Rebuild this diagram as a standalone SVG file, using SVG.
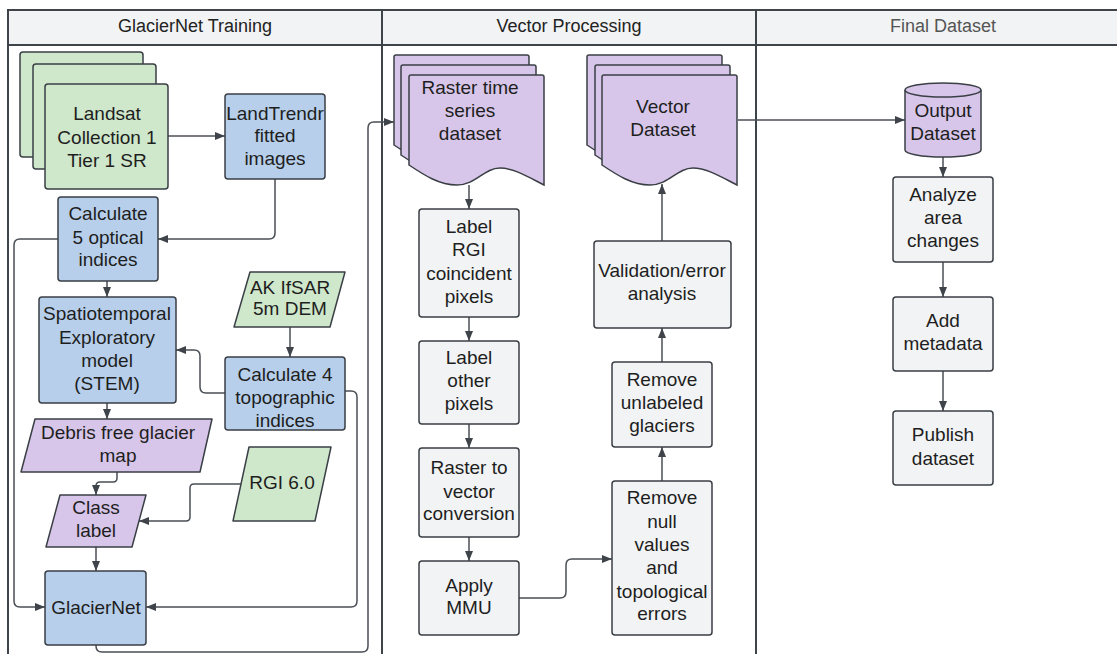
<svg xmlns="http://www.w3.org/2000/svg" xmlns:xlink="http://www.w3.org/1999/xlink" width="1117" height="654" viewBox="0 0 1117 654">
  <style>
    .lane { fill: none; stroke: #3f444a; stroke-width: 2; }
    .head { fill: #f1f3f4; stroke: #3f444a; stroke-width: 2; }
    .htxt { font-family: "Liberation Sans", Arial, sans-serif; font-size: 18px; fill: #222; text-anchor: middle; }
    .htxt.dim { fill: #555; }
    .green { fill: #cfe7cb; stroke: #3a3f45; stroke-width: 1.5; }
    .blue { fill: #b7cfea; stroke: #3a3f45; stroke-width: 1.5; }
    .purple { fill: #d7c6e9; stroke: #3a3f45; stroke-width: 1.5; }
    .gray { fill: #f1f3f4; stroke: #3a3f45; stroke-width: 1.5; }
    .t { font-family: "Liberation Sans", Arial, sans-serif; font-size: 19px; fill: #1e1e1e; text-anchor: middle; }
    .c { fill: none; stroke: #4a4f56; stroke-width: 1.5; }
  </style>
  <defs>
    <marker id="arr" markerUnits="userSpaceOnUse" markerWidth="10" markerHeight="10" viewBox="0 0 10 10" refX="10" refY="5" orient="auto">
      <path d="M0,1 L10,5 L0,9 Z" fill="#3f444a"/>
    </marker>
    <!-- document shape with wavy bottom edge -->
    <path id="doc" d="M0,2 Q0,0 2,0 H133 Q135,0 135,2 V110 C121,103 105,93 91,93 C75,93 67,110 48,110 C30,110 15,100 0,90 Z"/>
  </defs>

  <rect width="1117" height="654" fill="#ffffff"/>

  <!-- swimlanes -->
  <g id="lanes">
    <rect class="head" x="8" y="10" width="1130" height="35"/>
    <rect class="lane" x="8" y="10" width="1130" height="660"/>
    <line class="lane" x1="382" y1="10" x2="382" y2="670"/>
    <line class="lane" x1="756" y1="10" x2="756" y2="670"/>
    <text class="htxt" x="195" y="32">GlacierNet Training</text>
    <text class="htxt" x="569" y="32">Vector Processing</text>
    <text class="htxt dim" x="943" y="32">Final Dataset</text>
  </g>

  <!-- connectors -->
  <g id="connectors">
    <path class="c" marker-end="url(#arr)" d="M168,136 H225"/>
    <path class="c" marker-end="url(#arr)" d="M275,179 V233 Q275,239 269,239 H158"/>
    <path class="c" marker-end="url(#arr)" d="M58,239 H20 Q14,239 14,245 V601 Q14,607 20,607 H45"/>
    <path class="c" marker-end="url(#arr)" d="M107,281 V297"/>
    <path class="c" marker-end="url(#arr)" d="M290,327 V357"/>
    <path class="c" marker-end="url(#arr)" d="M225,393 H206 Q200,393 200,387 V356 Q200,350 194,350 H176"/>
    <path class="c" marker-end="url(#arr)" d="M345,391 H351 Q357,391 357,397 V601 Q357,607 351,607 H146"/>
    <path class="c" marker-end="url(#arr)" d="M107,403 V419"/>
    <path class="c" marker-end="url(#arr)" d="M117,472 V478 Q117,482 113,482 H100 Q96,482 96,486 V495"/>
    <path class="c" marker-end="url(#arr)" d="M241,484 H194 Q190,484 190,488 V517 Q190,521 186,521 H139"/>
    <path class="c" marker-end="url(#arr)" d="M96,547 V571"/>
    <path class="c" marker-end="url(#arr)" d="M96,645 V646 Q96,652 102,652 H362 Q368,652 368,646 V128 Q368,122 374,122 H394"/>
    <path class="c" marker-end="url(#arr)" d="M469,185 V209"/>
    <path class="c" marker-end="url(#arr)" d="M469,317 V341"/>
    <path class="c" marker-end="url(#arr)" d="M469,424 V448"/>
    <path class="c" marker-end="url(#arr)" d="M469,537 V561"/>
    <path class="c" marker-end="url(#arr)" d="M519,598 H560 Q566,598 566,592 V565 Q566,559 572,559 H612"/>
    <path class="c" marker-end="url(#arr)" d="M662,481 V447"/>
    <path class="c" marker-end="url(#arr)" d="M662,362 V328"/>
    <path class="c" marker-end="url(#arr)" d="M662,241 V184"/>
    <path class="c" marker-end="url(#arr)" d="M738,120 H905"/>
    <path class="c" marker-end="url(#arr)" d="M943,157 V177"/>
    <path class="c" marker-end="url(#arr)" d="M943,262 V297"/>
    <path class="c" marker-end="url(#arr)" d="M943,371 V411"/>
  </g>

  <!-- GlacierNet Training lane -->
  <g id="landsat">
    <rect class="green" x="20" y="52" width="123" height="105" rx="3"/>
    <rect class="green" x="33" y="64" width="123" height="105" rx="3"/>
    <rect class="green" x="45" y="84" width="123" height="105" rx="3"/>
    <text class="t" x="107" y="120">Landsat</text>
    <text class="t" x="107" y="144">Collection 1</text>
    <text class="t" x="107" y="167">Tier 1 SR</text>
  </g>
  <g id="landtrendr">
    <rect class="blue" x="225" y="94" width="100" height="85" rx="3"/>
    <text class="t" x="275" y="120">LandTrendr</text>
    <text class="t" x="275" y="142">fitted</text>
    <text class="t" x="275" y="165">images</text>
  </g>
  <g id="optical">
    <rect class="blue" x="58" y="197" width="100" height="84" rx="3"/>
    <text class="t" x="108" y="220">Calculate</text>
    <text class="t" x="108" y="244">5 optical</text>
    <text class="t" x="108" y="266">indices</text>
  </g>
  <g id="stem">
    <rect class="blue" x="39" y="297" width="137" height="106" rx="3"/>
    <text class="t" x="107" y="320">Spatiotemporal</text>
    <text class="t" x="107" y="344">Exploratory</text>
    <text class="t" x="107" y="367">model</text>
    <text class="t" x="107" y="390">(STEM)</text>
  </g>
  <g id="ifsar">
    <path class="green" d="M250,272 H345 L330,327 H234 Z" stroke-linejoin="round"/>
    <text class="t" x="290" y="294">AK IfSAR</text>
    <text class="t" x="290" y="315">5m DEM</text>
  </g>
  <g id="topographic">
    <rect class="blue" x="225" y="357" width="120" height="73" rx="3"/>
    <text class="t" x="285" y="381">Calculate 4</text>
    <text class="t" x="285" y="404">topographic</text>
    <text class="t" x="285" y="427">indices</text>
  </g>
  <g id="debris">
    <path class="purple" d="M35,419 H212 L200,472 H21 Z" stroke-linejoin="round"/>
    <text class="t" x="118" y="439">Debris free glacier</text>
    <text class="t" x="118" y="462">map</text>
  </g>
  <g id="classlabel">
    <path class="purple" d="M60,495 H146 L132,547 H46 Z" stroke-linejoin="round"/>
    <text class="t" x="96" y="514">Class</text>
    <text class="t" x="96" y="537">label</text>
  </g>
  <g id="rgi">
    <path class="green" d="M249,447 H331 L315,521 H233 Z" stroke-linejoin="round"/>
    <text class="t" x="282" y="489">RGI 6.0</text>
  </g>
  <g id="glaciernet">
    <rect class="blue" x="45" y="571" width="101" height="74" rx="3"/>
    <text class="t" x="96" y="614">GlacierNet</text>
  </g>

  <!-- Vector Processing lane -->
  <g id="raster">
    <use xlink:href="#doc" href="#doc" class="purple" x="394" y="55"/>
    <use xlink:href="#doc" href="#doc" class="purple" x="401" y="65"/>
    <use xlink:href="#doc" href="#doc" class="purple" x="409" y="75"/>
    <text class="t" x="470" y="94">Raster time</text>
    <text class="t" x="470" y="117">series</text>
    <text class="t" x="470" y="140">dataset</text>
  </g>
  <g id="label-rgi">
    <rect class="gray" x="419" y="209" width="100" height="108" rx="3"/>
    <text class="t" x="469" y="233">Label</text>
    <text class="t" x="469" y="256">RGI</text>
    <text class="t" x="469" y="280">coincident</text>
    <text class="t" x="469" y="303">pixels</text>
  </g>
  <g id="label-other">
    <rect class="gray" x="419" y="341" width="100" height="83" rx="3"/>
    <text class="t" x="469" y="364">Label</text>
    <text class="t" x="469" y="387">other</text>
    <text class="t" x="469" y="410">pixels</text>
  </g>
  <g id="raster-to-vector">
    <rect class="gray" x="419" y="448" width="100" height="89" rx="3"/>
    <text class="t" x="469" y="474">Raster to</text>
    <text class="t" x="469" y="498">vector</text>
    <text class="t" x="469" y="520">conversion</text>
  </g>
  <g id="mmu">
    <rect class="gray" x="419" y="561" width="100" height="74" rx="3"/>
    <text class="t" x="469" y="592">Apply</text>
    <text class="t" x="469" y="614">MMU</text>
  </g>
  <g id="vector">
    <use xlink:href="#doc" href="#doc" class="purple" x="587" y="55"/>
    <use xlink:href="#doc" href="#doc" class="purple" x="595" y="65"/>
    <use xlink:href="#doc" href="#doc" class="purple" x="602" y="75"/>
    <text class="t" x="663" y="113">Vector</text>
    <text class="t" x="663" y="136">Dataset</text>
  </g>
  <g id="validation">
    <rect class="gray" x="594" y="241" width="137" height="87" rx="3"/>
    <text class="t" x="662" y="277">Validation/error</text>
    <text class="t" x="662" y="300">analysis</text>
  </g>
  <g id="unlabeled">
    <rect class="gray" x="612" y="362" width="100" height="85" rx="3"/>
    <text class="t" x="662" y="386">Remove</text>
    <text class="t" x="662" y="409">unlabeled</text>
    <text class="t" x="662" y="432">glaciers</text>
  </g>
  <g id="nulls">
    <rect class="gray" x="612" y="481" width="100" height="154" rx="3"/>
    <text class="t" x="662" y="504">Remove</text>
    <text class="t" x="662" y="528">null</text>
    <text class="t" x="662" y="551">values</text>
    <text class="t" x="662" y="574">and</text>
    <text class="t" x="662" y="598">topological</text>
    <text class="t" x="662" y="620">errors</text>
  </g>

  <!-- Final Dataset lane -->
  <g id="output">
    <path class="purple" d="M905,90 V150 A38,7 0 0 0 981,150 V90 A38,7 0 0 0 905,90 Z"/>
    <path class="purple" d="M905,90 A38,7 0 0 0 981,90"/>
    <text class="t" x="943" y="117">Output</text>
    <text class="t" x="943" y="140">Dataset</text>
  </g>
  <g id="analyze">
    <rect class="gray" x="893" y="177" width="100" height="85" rx="3"/>
    <text class="t" x="943" y="201">Analyze</text>
    <text class="t" x="943" y="224">area</text>
    <text class="t" x="943" y="247">changes</text>
  </g>
  <g id="metadata">
    <rect class="gray" x="893" y="297" width="100" height="74" rx="3"/>
    <text class="t" x="943" y="327">Add</text>
    <text class="t" x="943" y="350">metadata</text>
  </g>
  <g id="publish">
    <rect class="gray" x="893" y="411" width="100" height="74" rx="3"/>
    <text class="t" x="943" y="441">Publish</text>
    <text class="t" x="943" y="465">dataset</text>
  </g>
</svg>
